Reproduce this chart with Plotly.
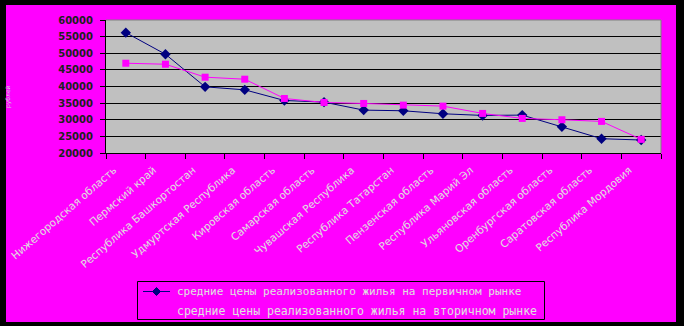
import plotly.graph_objects as go

regions = [
    "Нижегородская область", "Пермский край", "Республика Башкортостан",
    "Удмуртская Республика", "Кировская область", "Самарская область",
    "Чувашская Республика", "Республика Татарстан", "Пензенская область",
    "Республика Марий Эл", "Ульяновская область", "Оренбургская область",
    "Саратовская область", "Республика Мордовия",
]
primary = [56200, 49700, 39900, 39000, 35800, 35300, 32900, 32700, 31800, 31300, 31400, 27900, 24300, 23900]
secondary = [47000, 46700, 42800, 42200, 36400, 35200, 34900, 34400, 34100, 31900, 30400, 30000, 29500, 24100]
name_primary = "средние цены реализованного жилья на первичном рынке"
name_secondary = "средние цены реализованного жилья на вторичном рынке"
y_ticks = [20000, 25000, 30000, 35000, 40000, 45000, 50000, 55000, 60000]

W, H = 684, 326
L, R, T, B = 106, 661, 20, 153
pw, ph = R - L, B - T

def px(x):
    return (x - L) / pw

def py(y):
    return (B - y) / ph

fig = go.Figure()
fig.add_trace(go.Scatter(
    x=regions, y=primary, name=name_primary, mode="lines+markers",
    line=dict(color="#000080", width=1),
    marker=dict(symbol="diamond", size=8, color="#000080"),
))
fig.add_trace(go.Scatter(
    x=regions, y=secondary, name=name_secondary, mode="lines+markers",
    line=dict(color="#ff00ff", width=1),
    marker=dict(symbol="square", size=7, color="#ff00ff"),
))

shapes = []
# plot area top/right grey border
shapes.append(dict(type="line", xref="paper", yref="paper", x0=0, x1=1, y0=1, y1=1,
                   line=dict(color="#808080", width=1), layer="above"))
shapes.append(dict(type="line", xref="paper", yref="paper", x0=1, x1=1, y0=0, y1=1,
                   line=dict(color="#808080", width=1), layer="above"))
# legend box
shapes.append(dict(type="rect", xref="paper", yref="paper",
                   x0=px(137.5), x1=px(544.5), y0=py(319.5), y1=py(281.5),
                   line=dict(color="black", width=1), fillcolor="rgba(0,0,0,0)", layer="above"))
# legend sample: primary line + diamond
shapes.append(dict(type="line", xref="paper", yref="paper",
                   x0=px(143), x1=px(170), y0=py(291.5), y1=py(291.5),
                   line=dict(color="#000080", width=1), layer="above"))
cx, cy, d = 156.5, 291.5, 4
path = "M {} {} L {} {} L {} {} L {} {} Z".format(
    px(cx), py(cy - d), px(cx + d), py(cy), px(cx), py(cy + d), px(cx - d), py(cy))
shapes.append(dict(type="path", xref="paper", yref="paper", path=path,
                   fillcolor="#000080", line=dict(color="#000080", width=1), layer="above"))
# legend sample: secondary line + square (magenta on magenta)
shapes.append(dict(type="line", xref="paper", yref="paper",
                   x0=px(143), x1=px(170), y0=py(310.5), y1=py(310.5),
                   line=dict(color="#ff00ff", width=1), layer="above"))
# black outer frame
for (x0, y0, x1, y1) in [(0, 0, 6, H), (0, 0, W, 5), (676, 0, W, H), (0, 322, W, H)]:
    shapes.append(dict(type="rect", xref="paper", yref="paper",
                       x0=px(x0), x1=px(x1), y0=py(y1), y1=py(y0),
                       fillcolor="black", line=dict(width=0), layer="above"))

annotations = [
    dict(text="рублей", xref="paper", yref="paper", x=px(8), y=py(97),
         xanchor="center", yanchor="middle",
         textangle=-90, showarrow=False,
         font=dict(family="DejaVu Sans", size=6, color="#d0d0d0")),
    dict(text=name_primary, xref="paper", yref="paper", x=px(175), y=py(291.5),
         xanchor="left", yanchor="middle", showarrow=False,
         font=dict(family="DejaVu Sans Mono", size=11, color="#e0e0e0")),
    dict(text=name_secondary, xref="paper", yref="paper", x=px(175), y=py(310.5),
         xanchor="left", yanchor="middle", showarrow=False,
         font=dict(family="DejaVu Sans Mono", size=11.5, color="#e0e0e0")),
]

fig.update_layout(
    width=W, height=H,
    margin=dict(l=L, r=W - R, t=T, b=H - B, autoexpand=False),
    paper_bgcolor="#ff00ff",
    plot_bgcolor="#c0c0c0",
    showlegend=False,
    shapes=shapes,
    annotations=annotations,
)
fig.update_xaxes(
    type="category", tickangle=-41, tickson="boundaries",
    ticks="outside", ticklen=5, tickcolor="black",
    showline=True, linecolor="black", linewidth=1,
    showgrid=False,
    tickfont=dict(family="DejaVu Sans", size=10.5, color="#e0e0e0"),
    ticklabelshift=-12, ticklabelstandoff=6,
    range=[-0.5, len(regions) - 0.5],
)
fig.update_yaxes(
    range=[20000, 60000], tickvals=y_ticks, ticktext=[str(v) for v in y_ticks],
    ticks="outside", ticklen=5, tickcolor="black",
    showline=True, linecolor="black", linewidth=1,
    showgrid=True, gridcolor="black", gridwidth=1,
    zeroline=False, ticklabelstandoff=5,
    tickfont=dict(family="DejaVu Sans", size=10, color="#202020", weight="bold"),
)
fig.write_html("out.html")
